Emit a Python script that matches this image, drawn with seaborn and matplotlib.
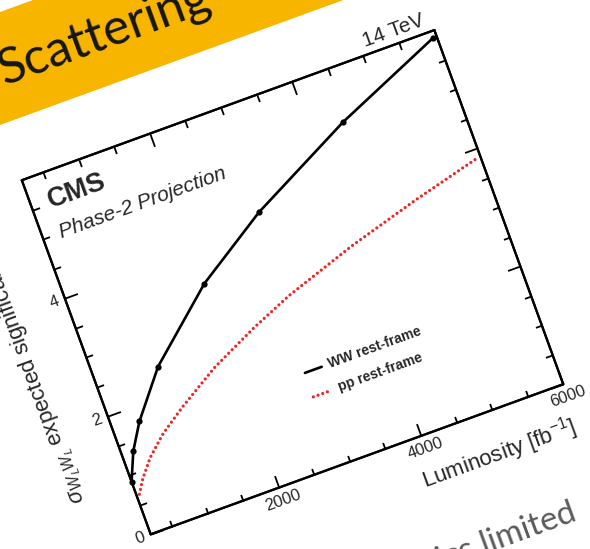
import numpy as np
import matplotlib
matplotlib.use("Agg")
import matplotlib.pyplot as plt
import seaborn as sns
from matplotlib.transforms import Affine2D
from matplotlib.patches import Polygon
from mpl_toolkits.axisartist import floating_axes
from mpl_toolkits.axisartist.grid_finder import FixedLocator

# ---------------- data ----------------
lumi_ww = [200, 360, 570, 1050, 2000, 3000, 4450, 5950]
sig_ww = [0.89, 1.34, 1.75, 2.47, 3.46, 4.23, 5.12, 5.89]

lumi_pp = [240, 350, 540, 810, 1180, 1750, 2400, 3000, 4000, 5000, 5950]
sig_pp = [0.66, 0.87, 1.15, 1.44, 1.74, 2.15, 2.52, 2.82, 3.22, 3.56, 3.85]

x_major = [2000, 4000, 6000]
x_minor = [500, 1000, 1500, 2500, 3000, 3500, 4500, 5000, 5500]
y_major = [0, 2, 4]
y_minor = [0.5, 1, 1.5, 2.5, 3, 3.5, 4.5, 5, 5.5]
legend_labels = ["WW rest-frame", "pp rest-frame"]

# ---------------- style ----------------
sns.set_theme(style="white")
plt.rcParams["font.family"] = ["Liberation Sans", "DejaVu Sans"]
plt.rcParams["mathtext.fontset"] = "custom"
plt.rcParams["mathtext.rm"] = "Liberation Sans"
plt.rcParams["mathtext.it"] = "Liberation Sans:italic"

DPI = 100
FW, FH = 590, 549
fig = plt.figure(figsize=(FW / DPI, FH / DPI), dpi=DPI)
fig.patch.set_facecolor("white")

# geometry of the rotated frame (pixels)
X0, X1, Y0, Y1 = 200, 6000, 0, 6
W_PX, H_PX = 439.0, 376.8
ANG = 20
OX, OY = 150.7, FH - 534.3
kx = W_PX / (X1 - X0)
ky = H_PX / (Y1 - Y0)
tr = Affine2D().translate(-X0, 0).scale(kx, ky).rotate_deg(ANG)


def make_axes(locx, locy, ticksize, face):
    gh = floating_axes.GridHelperCurveLinear(
        tr, extremes=(X0, X1, Y0, Y1),
        grid_locator1=FixedLocator(locx),
        grid_locator2=FixedLocator(locy))
    corners = tr.transform([(X0, Y0), (X1, Y0), (X1, Y1), (X0, Y1)])
    xmin, ymin = corners.min(0)
    xmax, ymax = corners.max(0)
    cx, cy = (xmin + xmax) / 2, (ymin + ymax) / 2
    w, h = (xmax - xmin) * 1.02, (ymax - ymin) * 1.02
    rect = [(OX + cx - w / 2) / FW, (OY + cy - h / 2) / FH, w / FW, h / FH]
    ax = fig.add_axes(rect, axes_class=floating_axes.FloatingAxes, grid_helper=gh)
    ax.patch.set_facecolor(face)
    for name in ["left", "right", "top", "bottom"]:
        a = ax.axis[name]
        a.major_ticklabels.set_visible(False)
        a.label.set_visible(False)
        a.major_ticks.set_ticksize(ticksize)
        a.major_ticks.set_tick_out(False)
        a.major_ticks.set_markeredgewidth(1.3)
        a.major_ticks.set_color("black")
        a.line.set_linewidth(1.6)
        a.line.set_color("black")
    return ax


ax1 = make_axes(x_major, y_major, 9.5, "white")
ax2 = make_axes(x_minor, y_minor, 5.0, "none")
aux = ax2.get_aux_axes(tr)

# ---------------- slide decorations ----------------
t20 = np.tan(np.deg2rad(ANG))
band = Polygon([(0 / FW, (FH - 12) / FH), ((12 / t20) / FW, 1.0),
                ((125 / t20) / FW, 1.0), (0, (FH - 125) / FH)],
               closed=True, transform=fig.transFigure, facecolor="#F7B500",
               edgecolor="none", zorder=0)
fig.patches.append(band)
fig.text(4 / FW, (FH - 85) / FH, "Scattering", rotation=ANG, rotation_mode="anchor",
         ha="left", va="baseline", fontsize=36, family=["Lato", "DejaVu Sans"],
         color="#151515")
fig.text(578 / FW, (FH - 520) / FH, "Statistics limited", rotation=ANG,
         rotation_mode="anchor", ha="right", va="baseline", fontsize=24,
         family=["Lato", "DejaVu Sans"], color="#5a5a5a")

# ---------------- data lines ----------------
sns.lineplot(x=lumi_ww, y=sig_ww, ax=aux, color="black", linewidth=1.9,
             marker="o", markersize=4.5, markeredgewidth=0, errorbar=None,
             legend=False, zorder=5)
sns.lineplot(x=lumi_pp, y=sig_pp, ax=aux, color="#F02424", linewidth=2.3,
             linestyle=(0, (0.01, 1.55)), dash_capstyle="round", errorbar=None,
             legend=False, zorder=4)

# ---------------- legend (rotated with the frame) ----------------
aux.plot([2844, 3080], [1.575, 1.575], color="black", linewidth=1.9)
aux.plot([2840, 3070], [1.17, 1.17], color="#F02424", linewidth=2.3,
         linestyle=(0, (0.01, 1.55)), dash_capstyle="round")
aux.text(3175, 1.575, legend_labels[0], rotation=ANG, rotation_mode="anchor",
         ha="left", va="center", fontsize=10, fontweight="bold")
aux.text(3195, 1.17, legend_labels[1], rotation=ANG, rotation_mode="anchor",
         ha="left", va="center", fontsize=10, fontweight="bold")

# ---------------- tick labels ----------------
for v in x_major:
    aux.text(v, -13.5 / ky, f"{v}", rotation=ANG, rotation_mode="anchor",
             ha="center", va="center", fontsize=12)
for v in y_major:
    aux.text(X0 - 11 / kx, v, f"{v}", rotation=ANG, rotation_mode="anchor",
             ha="center", va="center", fontsize=12)

# ---------------- titles & labels ----------------
aux.text(5960, -0.80, r"Luminosity [fb$^{-1}$]", rotation=ANG, rotation_mode="anchor",
         ha="right", va="baseline", fontsize=16)
aux.text(X0 - 50 / kx, 0.86, r"$\sigma_{W_{L}W_{L}}$ expected significance",
         rotation=90 + ANG, rotation_mode="anchor", ha="left", va="baseline",
         fontsize=16)
aux.text(5910, 6.12, "14 TeV", rotation=ANG, rotation_mode="anchor",
         ha="right", va="baseline", fontsize=15)
aux.text(430, 5.42, "CMS", rotation=ANG, rotation_mode="anchor",
         ha="left", va="baseline", fontsize=19.5, fontweight="bold")
aux.text(440, 4.92, "Phase-2 Projection", rotation=ANG, rotation_mode="anchor",
         ha="left", va="baseline", fontsize=15, fontstyle="italic")

fig.savefig("out.png", dpi=DPI, facecolor="white")
